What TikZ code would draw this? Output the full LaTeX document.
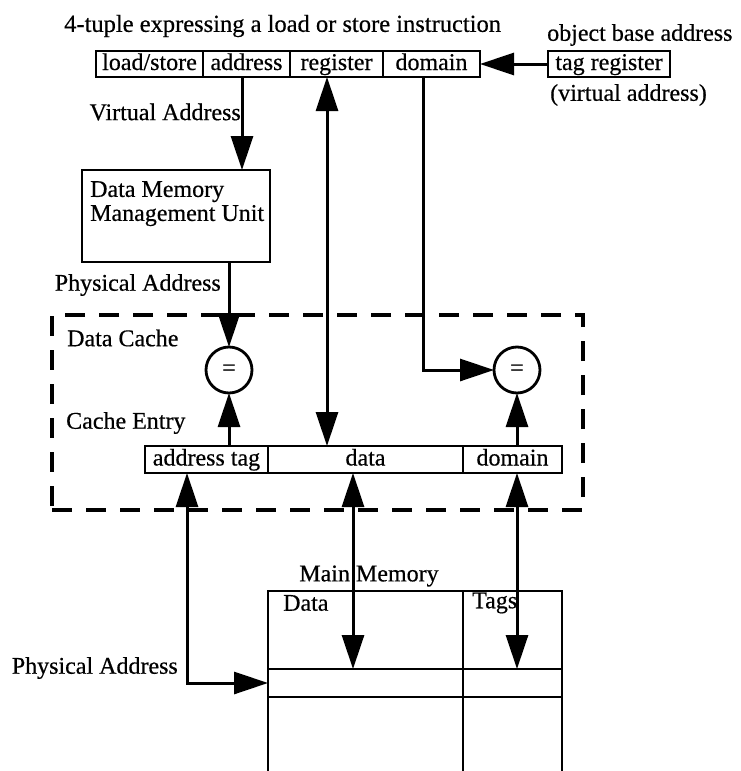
\documentclass[tikz,border=0pt]{standalone}
\usepackage{fontspec}
\setmainfont{Liberation Serif}[FakeBold=0.5]
\usetikzlibrary{arrows.meta,calc}
\begin{document}
\begin{tikzpicture}[x=1pt,y=-1pt,
  every node/.style={font=\fontsize{24}{24}\selectfont},
  cell/.style={draw, line width=2.8pt, rectangle, inner sep=0pt, outer sep=0pt, minimum height=26pt, text height=17pt, text depth=5pt},
  lbl/.style={inner sep=0pt},
  cmp/.style={draw, circle, line width=2.8pt, minimum size=46pt, inner sep=0pt, outer sep=0pt},
  wire/.style={line width=3pt},
  arrowto/.style={-{Triangle[length=34pt,width=22pt]}},
  dbl/.style={{Triangle[length=34pt,width=22pt]}-{Triangle[length=34pt,width=22pt]}},
  dashbox/.style={draw, line width=3.4pt, dash pattern=on 20pt off 14pt, inner sep=0pt},
  memline/.style={line width=2.8pt}]
\useasboundingbox (0,0) rectangle (741,771);

% instruction tuple
\node[lbl, anchor=west, font=\fontsize{24.5}{24}\selectfont] (title) at (64,26) {4-tuple expressing a load or store instruction};
\node[cell, minimum width=107pt] (ls) at (149.5,64) {load/store};
\node[cell, minimum width=87pt]  (ad) at (246.5,64) {address};
\node[cell, minimum width=93pt]  (rg) at (336.5,64) {register};
\node[cell, minimum width=97pt]  (dm) at (431.5,64) {domain};

% tag register
\node[lbl, anchor=west] (obj) at (547,35) {object base address};
\node[cell, minimum width=122pt] (tag) at (609,64) {tag register};
\node[lbl, anchor=west] (va) at (550,95) {(virtual address)};

% MMU
\node[lbl, anchor=east] (vlab) at (241,112) {Virtual Address};
\node[cell, minimum width=188pt, minimum height=92pt] (mmu) at (176,216) {};
\node[lbl, anchor=north west, align=left] (mmutext) at (90,181) {Data Memory\\Management Unit};
\node[lbl, anchor=east] (plab) at (221,285) {Physical Address};

% data cache
\node[dashbox, minimum width=531pt, minimum height=195pt] (cache) at (317.5,412.5) {};
\node[lbl, anchor=west] (dclab) at (67,338) {Data Cache};
\node[lbl, anchor=west] (celab) at (66,423) {Cache Entry};
\node[cmp] (c1) at (229,370) {=};
\node[cmp] (c2) at (517,370) {=};
\node[cell, minimum width=123pt, minimum height=27pt] (cat) at (206.5,459.5) {address tag};
\node[cell, minimum width=195pt, minimum height=27pt] (cda) at (365.5,459.5) {data};
\node[cell, minimum width=99pt,  minimum height=27pt] (cdm) at (512.5,459.5) {domain};

% main memory
\node[lbl] (mmlab) at (369,576) {Main Memory};
\node[cell, minimum width=195pt, minimum height=78pt] (memdata) at (365.5,630) {};
\node[cell, minimum width=99pt,  minimum height=78pt] (memtags) at (512.5,630) {};
\node[cell, minimum width=195pt, minimum height=28pt] (rowdata) at (365.5,683) {};
\node[cell, minimum width=99pt,  minimum height=28pt] (rowtags) at (512.5,683) {};
\node[lbl, anchor=west] (mdlab) at (283,603) {Data};
\node[lbl, anchor=west] (mtlab) at (472,603) {Tags};
\node[lbl, anchor=east] (plab2) at (178,668) {Physical Address};
\coordinate (bot) at (0,775);
\draw[memline] (rowdata.south west) -- (rowdata.south west |- bot);
\draw[memline] (rowdata.south east) -- (rowdata.south east |- bot);
\draw[memline] (rowtags.south east) -- (rowtags.south east |- bot);

% connectors
\coordinate (vx) at (242,0);
\coordinate (rx) at (327,0);
\coordinate (dx) at (423,0);
\coordinate (ax) at (187,0);
\coordinate (bx) at (353,0);
\draw[wire, arrowto] (tag.west) -- (dm.east);
\draw[wire, arrowto] (ad.south -| vx) -- (mmu.north -| vx);
\draw[wire, arrowto] (mmu.south -| c1) -- (c1.north);
\draw[wire, dbl] (rg.south -| rx) -- (cda.north -| rx);
\draw[wire, arrowto] (dm.south -| dx) |- (c2.west);
\draw[wire, arrowto] (cat.north -| c1) -- (c1.south);
\draw[wire, arrowto] (cdm.north -| c2) -- (c2.south);
\draw[wire, dbl] (cat.south -| ax) |- (rowdata.west);
\draw[wire, dbl] (cda.south -| bx) -- (rowdata.north -| bx);
\draw[wire, dbl] (cdm.south -| c2) -- (rowtags.north -| c2);
\end{tikzpicture}
\end{document}
